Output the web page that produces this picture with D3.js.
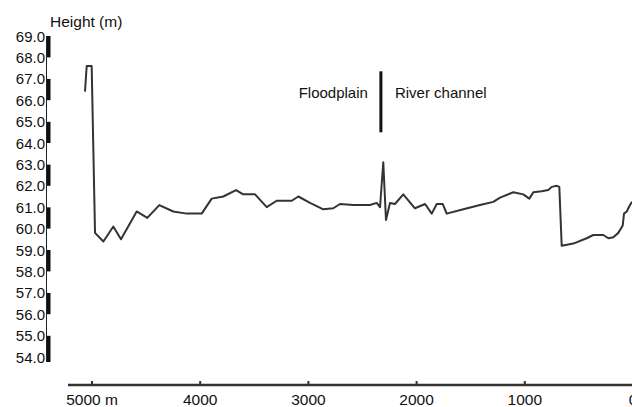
<!DOCTYPE html>
<html>
<head>
<meta charset="utf-8">
<script src="https://cdn.jsdelivr.net/npm/d3@7"></script>
<style>
  body { margin: 0; background: #fff; }
  text { font-family: "Liberation Sans", Arial, sans-serif; fill: #111; }
</style>
</head>
<body>
<script>
// profile: distance from the river (m) and ground height (m)
var distance = [5065, 5049, 5003, 4972, 4895, 4803, 4732, 4587, 4489, 4378,
                4249, 4125, 3986, 3894, 3786, 3669, 3602, 3493, 3385, 3293,
                3154, 3093, 2985, 2862, 2770, 2708, 2585, 2431, 2369, 2338,
                2308, 2283, 2246, 2200, 2123, 2015, 1922, 1860, 1814, 1759,
                1722, 1568, 1414, 1291, 1229, 1106, 1014, 958, 921, 844,
                783, 751, 705, 681, 659, 552, 428, 367, 274, 228,
                182, 136, 95, 83, 58, 28, 9];
var height = [66.4, 67.6, 67.6, 59.8, 59.4, 60.1, 59.5, 60.8, 60.5, 61.1,
              60.8, 60.7, 60.7, 61.4, 61.5, 61.8, 61.6, 61.6, 61.0, 61.3,
              61.3, 61.5, 61.2, 60.9, 60.95, 61.15, 61.1, 61.1, 61.2, 61.0,
              63.1, 60.4, 61.2, 61.15, 61.6, 60.95, 61.15, 60.7, 61.15, 61.15,
              60.7, 60.9, 61.1, 61.25, 61.45, 61.7, 61.6, 61.4, 61.7, 61.75,
              61.8, 61.95, 62.0, 61.95, 59.2, 59.3, 59.55, 59.7, 59.7, 59.55,
              59.6, 59.8, 60.15, 60.7, 60.8, 61.1, 61.25];

var xTicks = [5000, 4000, 3000, 2000, 1000, 0];
var yTicks = [69, 68, 67, 66, 65, 64, 63, 62, 61, 60, 59, 58, 57, 56, 55, 54];

// floodplain / river channel divider
var dividerAt = 2330;
var dividerTop = 67.35, dividerBottom = 64.5;

var width = 632, height_px = 407;

var svg = d3.select("body").append("svg")
  .attr("width", width)
  .attr("height", height_px);

var x = d3.scaleLinear().domain([5000, 0]).range([92, 633]);
var y = d3.scaleLinear().domain([54, 69]).range([357, 36]);

// y axis: black and white scale bar
var segs = d3.range(54, 69);
svg.append("g").selectAll("rect")
  .data(segs)
  .enter().append("rect")
  .attr("x", 46)
  .attr("y", function(d) { return y(d + 1); })
  .attr("width", 4.5)
  .attr("height", function(d) { return y(d) - y(d + 1); })
  .attr("fill", function(d) { return (68 - d) % 2 === 0 ? "#111" : "#fff"; });

svg.append("rect")
  .attr("x", 46)
  .attr("y", y(54))
  .attr("width", 4.5)
  .attr("height", 5)
  .attr("fill", "#111");

svg.append("line")
  .attr("x1", 46.5).attr("x2", 46.5)
  .attr("y1", y(69)).attr("y2", y(54) + 5)
  .attr("stroke", "#222")
  .attr("stroke-width", 1);

svg.append("g").selectAll("text")
  .data(yTicks)
  .enter().append("text")
  .attr("x", 45)
  .attr("y", function(d) { return y(d) + 5.5; })
  .attr("text-anchor", "end")
  .style("font-size", "15px")
  .text(function(d) { return d3.format(".1f")(d); });

svg.append("text")
  .attr("x", 50)
  .attr("y", 27)
  .style("font-size", "15.5px")
  .text("Height (m)");

// x axis
svg.append("line")
  .attr("x1", 68).attr("x2", 632)
  .attr("y1", 385).attr("y2", 385)
  .attr("stroke", "#333")
  .attr("stroke-width", 2.5);

svg.append("g").selectAll("line")
  .data(xTicks)
  .enter().append("line")
  .attr("x1", function(d) { return x(d); })
  .attr("x2", function(d) { return x(d); })
  .attr("y1", 385).attr("y2", 381)
  .attr("stroke", "#333")
  .attr("stroke-width", 2);

svg.append("g").selectAll("text")
  .data(xTicks)
  .enter().append("text")
  .attr("x", function(d) { return x(d); })
  .attr("y", 405)
  .attr("text-anchor", "middle")
  .style("font-size", "15.5px")
  .text(function(d, i) { return i === 0 ? d + " m" : d; });

// profile line
var pts = distance.map(function(d, i) { return [d, height[i]]; });
var line = d3.line()
  .x(function(d) { return x(d[0]); })
  .y(function(d) { return y(d[1]); });

svg.append("path")
  .datum(pts)
  .attr("d", line)
  .attr("fill", "none")
  .attr("stroke", "#333")
  .attr("stroke-width", 2)
  .attr("stroke-linejoin", "round");

// divider and labels
svg.append("line")
  .attr("x1", x(dividerAt)).attr("x2", x(dividerAt))
  .attr("y1", y(dividerTop)).attr("y2", y(dividerBottom))
  .attr("stroke", "#111")
  .attr("stroke-width", 3);

svg.append("text")
  .attr("x", x(dividerAt) - 13)
  .attr("y", y(66.35) + 5.5)
  .attr("text-anchor", "end")
  .style("font-size", "15px")
  .text("Floodplain");

svg.append("text")
  .attr("x", x(dividerAt) + 14)
  .attr("y", y(66.35) + 5.5)
  .style("font-size", "15px")
  .text("River channel");
</script>
</body>
</html>
